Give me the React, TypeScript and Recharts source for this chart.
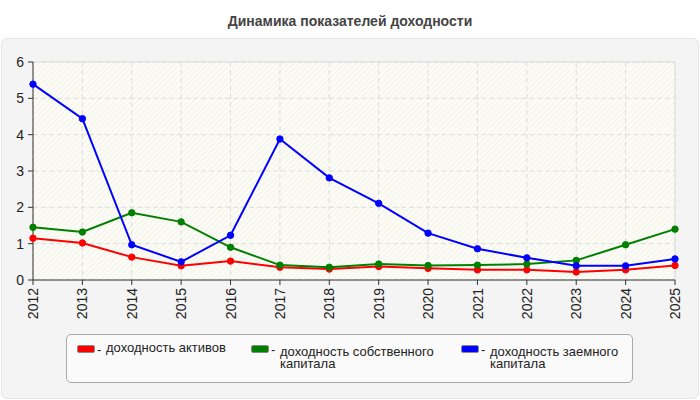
import { LineChart, Line, XAxis, YAxis, CartesianGrid, ReferenceLine } from 'recharts';

const YEARS = ['2012', '2013', '2014', '2015', '2016', '2017', '2018', '2019', '2020', '2021', '2022', '2023', '2024', '2025'];
const ROA = [1.15, 1.02, 0.63, 0.39, 0.52, 0.35, 0.3, 0.37, 0.32, 0.28, 0.28, 0.22, 0.28, 0.4];
const ROE = [1.45, 1.32, 1.85, 1.6, 0.9, 0.41, 0.35, 0.44, 0.4, 0.41, 0.44, 0.54, 0.97, 1.4];
const ROD = [5.39, 4.44, 0.97, 0.5, 1.23, 3.88, 2.81, 2.11, 1.29, 0.86, 0.61, 0.39, 0.39, 0.58];
const Y_TICKS = [0, 1, 2, 3, 4, 5, 6];

const SERIES = [
  { key: 'roa', label: 'доходность активов', color: '#ff0000', values: ROA },
  { key: 'roe', label: 'доходность собственного капитала', color: '#008000', values: ROE },
  { key: 'rod', label: 'доходность заемного капитала', color: '#0000ff', values: ROD },
];

const data = YEARS.map((year, i) => ({
  year,
  roa: ROA[i],
  roe: ROE[i],
  rod: ROD[i],
}));

const FONT = '"Liberation Sans", Arial, sans-serif';

function YearTick({ x, y, payload }: any) {
  return (
    <g transform={`translate(${x},${y})`}>
      <text
        transform="rotate(-90)"
        x={-1}
        dy="0.36em"
        textAnchor="end"
        fill="#222"
        fontSize={14}
        fontFamily={FONT}
      >
        {payload.value}
      </text>
    </g>
  );
}

const legendPos = [
  { left: 77, swatchTop: 345, textTop: 342, width: 140 },
  { left: 251, swatchTop: 345, textTop: 346, width: 160 },
  { left: 461, swatchTop: 345, textTop: 346, width: 140 },
];

export default function App() {
  return (
    <div style={{ position: 'absolute', left: 0, top: 0, width: 700, height: 400, background: '#fff', fontFamily: FONT, overflow: 'hidden' }}>
      <svg width={0} height={0} style={{ position: 'absolute' }}>
        <defs>
          <pattern id="hatch" width={4} height={4} patternUnits="userSpaceOnUse" patternTransform="rotate(45)">
            <rect width={4} height={4} fill="#fcfcf5" />
            <line x1={0} y1={0} x2={0} y2={4} stroke="#ececea" strokeWidth={1.2} />
          </pattern>
        </defs>
      </svg>

      <div style={{ position: 'absolute', top: 13, left: 0, width: 700, textAlign: 'center', fontSize: 14, fontWeight: 'bold', color: '#444' }}>
        Динамика показателей доходности
      </div>

      <div style={{ position: 'absolute', left: 1, top: 38, width: 696, height: 359, background: '#f4f4f4', border: '1px solid #e6e6e6', borderRadius: 6 }} />

      <div style={{ position: 'absolute', left: 0, top: 0 }}>
        <LineChart width={700} height={400} data={data} margin={{ top: 62, right: 25, bottom: 70, left: 8 }}>
          <CartesianGrid stroke="#dcdcdc" strokeDasharray="5 3" fill="url(#hatch)" fillOpacity={1} />
          <ReferenceLine y={6} stroke="#dedede" strokeWidth={1} />
          <ReferenceLine x="2025" stroke="#dedede" strokeWidth={1} />
          <XAxis
            dataKey="year"
            height={50}
            interval={0}
            tick={<YearTick />}
            tickSize={5}
            stroke="#333"
            tickLine={{ stroke: '#333' }}
          />
          <YAxis
            domain={[0, 6]}
            ticks={Y_TICKS}
            width={25}
            tickSize={5}
            tickMargin={4}
            stroke="#333"
            tick={{ fill: '#222', fontSize: 14, fontFamily: FONT }}
          />
          {SERIES.map((s) => (
            <Line
              key={s.key}
              dataKey={s.key}
              type="linear"
              stroke={s.color}
              strokeWidth={2}
              dot={{ r: 3.2, fill: s.color, stroke: s.color, strokeWidth: 1 }}
              isAnimationActive={false}
            />
          ))}
        </LineChart>
      </div>

      <div style={{ position: 'absolute', left: 66, top: 334, width: 565, height: 47, background: '#fafafa', border: '1px solid #aaa', borderRadius: 5 }} />
      {SERIES.map((s, i) => (
        <div key={s.key}>
          <div
            style={{
              position: 'absolute',
              left: legendPos[i].left,
              top: legendPos[i].swatchTop,
              width: 16,
              height: 6,
              background: s.color,
              border: '1px solid #888',
              borderRadius: 2,
            }}
          />
          <div style={{ position: 'absolute', left: legendPos[i].left + 20, top: 342, fontSize: 13, color: '#222' }}>-</div>
          <div
            style={{
              position: 'absolute',
              left: legendPos[i].left + 29,
              top: legendPos[i].textTop,
              width: legendPos[i].width,
              fontSize: 13,
              lineHeight: '12px',
              color: '#222',
            }}
          >
            {s.label}
          </div>
        </div>
      ))}
    </div>
  );
}
